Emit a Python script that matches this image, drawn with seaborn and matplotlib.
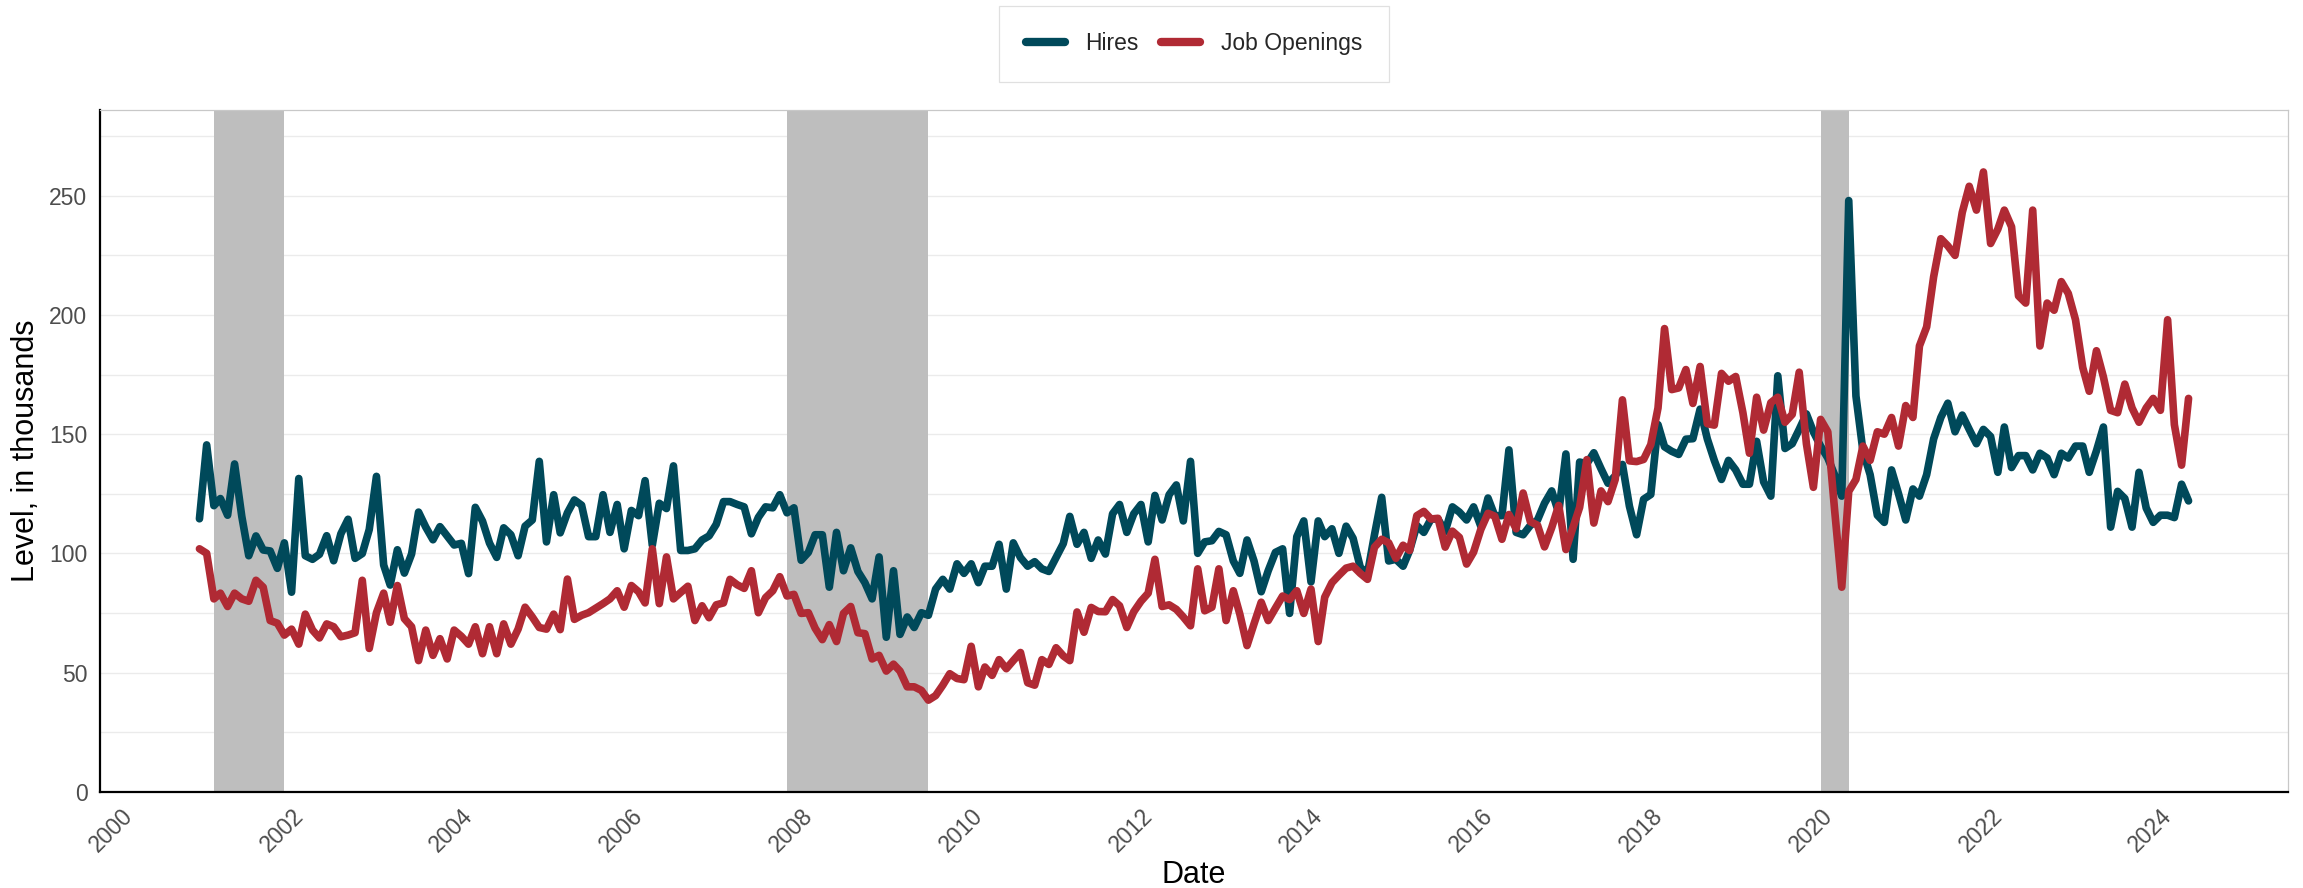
import pandas as pd
import matplotlib
matplotlib.use("Agg")
import matplotlib.pyplot as plt
import matplotlib.dates as mdates
from matplotlib.ticker import MultipleLocator
import seaborn as sns

# ------------------------------------------------------------------
# Data (thousands), monthly from Dec 2000 to May 2024
# ------------------------------------------------------------------
START_MONTH = "2000-12-01"

HIRES = [
    114.5,
    145.5, 120, 123, 116, 137.5, 115.5, 99, 107.3, 101.4, 101, 93.7, 104.4,        # 2001
    83.7, 131.4, 99, 97.5, 99.6, 107.4, 96.9, 108.2, 114.3, 97.9, 99.9, 110,       # 2002
    132.3, 95.1, 86.7, 101.5, 91.7, 99.7, 117.3, 111, 105.7, 111.2, 107.3, 103.5,  # 2003
    104.2, 91.5, 119.3, 113.5, 104.3, 98.3, 110.7, 107.8, 99, 111.4, 114, 138.6,   # 2004
    104.8, 124.6, 108.6, 117, 122.4, 120.2, 107, 107, 124.6, 108.8, 120.5, 101.9,  # 2005
    118, 115.8, 130.5, 103.4, 121, 118.8, 136.7, 101.2, 101.2, 101.9, 105.6, 107.3,  # 2006
    112.2, 121.7, 121.7, 120.5, 119.5, 108.2, 115.1, 119.5, 119.1, 124.6, 117, 119.1,  # 2007
    97.1, 100.4, 107.8, 107.8, 85.8, 108.8, 92.7, 102.3, 92.4, 87.7, 80.9, 98.5,   # 2008
    64.8, 92.7, 66, 73.3, 68.9, 75.1, 74, 85, 89.1, 85, 95.6, 91.6,               # 2009
    95.6, 87.7, 94.6, 94.6, 103.8, 85, 104.4, 98.2, 94.6, 96.5, 93.5, 92.4,        # 2010
    98.2, 104.1, 115.5, 103.8, 108.8, 97.9, 105.6, 99.7, 116.6, 120.5, 108.8, 116.6,  # 2011
    120.5, 104.8, 124.3, 114, 124.6, 128.7, 113.6, 138.6, 100, 104.8, 105.3, 109.2,  # 2012
    107.8, 96.8, 91.6, 105.6, 96.8, 83.9, 92.7, 100.4, 101.9, 74.8, 107, 113.6,    # 2013
    88, 113.6, 107, 110.3, 100, 111.4, 106.3, 94.1, 91.6, 107.8, 123.5, 96.8,      # 2014
    97.5, 94.6, 101.2, 111.7, 108.8, 114.4, 114.4, 109.2, 119.5, 117.3, 114, 119.5,  # 2015
    111.4, 123.2, 115.8, 115.8, 143.4, 108.8, 107.8, 111.7, 114, 121, 126.2, 117,  # 2016
    141.7, 97.5, 138.3, 137.6, 142.2, 135.5, 129.4, 132.5, 137.3, 119.8, 107.8, 122.7,  # 2017
    124.7, 154, 144.7, 142.8, 141.5, 147.9, 148.1, 160.5, 148, 139, 131, 139,      # 2018
    135, 129, 129, 147, 130, 124, 174.5, 144, 146, 152, 158.5, 151,                # 2019
    145, 140, 133, 124, 248, 166, 143, 133, 116, 113, 135, 125,                    # 2020
    114, 127, 124, 133, 148, 157, 163, 151, 158, 152, 146, 152,                    # 2021
    149, 134, 153, 136, 141, 141, 135, 142, 140, 133, 142, 140,                    # 2022
    145, 145, 134, 143, 153, 111, 126, 123, 111, 134, 119, 113,                    # 2023
    116, 116, 115, 129, 122,                                                       # 2024
]

OPENINGS = [
    101.9,
    100, 80.9, 83.3, 77.7, 83.3, 80.9, 79.9, 88.7, 85.8, 71.8, 70.7, 65.7,         # 2001
    68.2, 61.9, 74.5, 67.8, 64.5, 70.4, 69.2, 65, 65.7, 66.7, 88.7, 60.1,          # 2002
    75.1, 83.3, 71.1, 86.5, 72.6, 69.2, 55, 67.8, 57.2, 64.2, 55.7, 67.8,          # 2003
    65.2, 61.9, 69.2, 57.9, 69.2, 57.9, 70.4, 61.9, 68.2, 77.4, 73.3, 68.9,        # 2004
    68.2, 74.5, 68, 89.2, 72.3, 74, 75.1, 77, 78.9, 80.9, 84.3, 77.4,              # 2005
    86.5, 83.9, 79.2, 101.9, 78.9, 98.5, 80.9, 83.6, 86.2, 71.8, 78, 73,           # 2006
    78.4, 79.2, 89.1, 86.8, 85.3, 92.7, 75.1, 81.4, 84.3, 90.2, 82.1, 82.8,        # 2007
    74.8, 75.1, 68.6, 63.8, 70.1, 63, 74.8, 77.7, 66.7, 66.3, 55.7, 57.2,          # 2008
    50.6, 53.5, 50.6, 44, 44, 42.5, 38.4, 40.3, 44.7, 49.5, 47.5, 47,              # 2009
    61, 44, 52.3, 48.8, 55.4, 51.6, 55, 58.4, 45.7, 44.7, 55.4, 53.4,              # 2010
    60.4, 57, 55, 75.4, 66.9, 77.3, 75.6, 75.5, 80.6, 78, 68.9, 75.5,              # 2011
    79.9, 83.3, 97.5, 77.7, 78.4, 76.5, 73.3, 69.6, 93.5, 75.9, 77.4, 93.5,        # 2012
    71.8, 84.3, 74.5, 61.3, 70.4, 79.5, 71.8, 77, 82.1, 80.6, 84.3, 74.8,          # 2013
    85, 63, 81.6, 87.7, 90.8, 93.8, 94.6, 91.6, 89.1, 102.6, 105.9, 104.4,         # 2014
    97.9, 103.4, 101.2, 115.8, 117.6, 114.4, 114.7, 102.6, 109.3, 106.7, 95.5, 100.5,  # 2015
    110, 116.8, 115.6, 105.9, 116.3, 110.3, 125.3, 113.3, 111.8, 102.7, 110.8, 120.1,  # 2016
    101.6, 111, 119.3, 139.3, 112.7, 126.2, 121.7, 131, 164.4, 138.8, 138.5, 139.4,  # 2017
    145.6, 161, 194.3, 168.7, 169.4, 177.1, 162.9, 178.4, 154.4, 153.8, 175.5, 172.2,  # 2018
    174.2, 159, 142, 165.5, 151.7, 163.2, 165.5, 155, 158.3, 176, 146, 127.7,      # 2019
    156.2, 151, 118.5, 85.8, 126, 131, 145, 139, 151, 150, 157, 145,               # 2020
    162, 157, 187, 195, 216, 232, 229, 225, 243, 254, 244, 260,                    # 2021
    230, 236, 244, 237, 208, 205, 244, 187, 205, 202, 214, 209,                    # 2022
    198, 178, 168, 185, 174, 160, 159, 171, 161, 155, 161, 165,                    # 2023
    160, 198, 154, 137, 165,                                                       # 2024
]

# Shaded recession periods
RECESSION_START = ["2001-02-01", "2007-11-01", "2020-01-01"]
RECESSION_END = ["2001-12-01", "2009-07-01", "2020-05-01"]

COLORS = {"Hires": "#00495A", "Job Openings": "#B02A34"}
SHADE_COLOR = "#BEBEBE"

# ------------------------------------------------------------------
# Build long-form frame
# ------------------------------------------------------------------
dates = pd.date_range(START_MONTH, periods=len(HIRES), freq="MS")
wide = pd.DataFrame({"date": dates, "Hires": HIRES, "Job Openings": OPENINGS})
df = wide.melt(id_vars="date", var_name="series", value_name="level")

# ------------------------------------------------------------------
# Plot
# ------------------------------------------------------------------
sns.set_style("white")
plt.rcParams["font.family"] = ["Liberation Sans", "DejaVu Sans"]

W, H = 2303, 888
fig = plt.figure(figsize=(W / 100, H / 100), dpi=100)
ax = fig.add_axes([100 / W, 1 - 791.7 / H, 2188 / W, 681.7 / H])

for s, e in zip(RECESSION_START, RECESSION_END):
    ax.axvspan(pd.Timestamp(s), pd.Timestamp(e), color=SHADE_COLOR, lw=0, zorder=1)

sns.lineplot(
    data=df, x="date", y="level", hue="series", palette=COLORS,
    linewidth=5.5, ax=ax, zorder=3,
)

# Axis limits (ggplot-style 5% on x, 10% headroom on y)
pad = (dates[-1] - dates[0]) * 0.05
ax.set_xlim(dates[0] - pad, dates[-1] + pad)
ax.set_ylim(0, df["level"].max() * 1.1)

# Ticks
ax.xaxis.set_major_locator(mdates.YearLocator(2))
ax.xaxis.set_major_formatter(mdates.DateFormatter("%Y"))
ax.yaxis.set_major_locator(MultipleLocator(50))
ax.yaxis.set_minor_locator(MultipleLocator(25))
ax.tick_params(axis="both", which="major", direction="out", length=5, width=1.3,
               color="#333333", labelcolor="#4D4D4D", labelsize=16.5, pad=4)
ax.tick_params(axis="y", which="minor", length=0)
ax.tick_params(axis="x", which="major", labelrotation=45)
plt.setp(ax.get_xticklabels(), ha="right", rotation_mode="anchor")

# Grid
ax.set_axisbelow(True)
ax.grid(axis="y", which="both", color="#EBEBEB", linewidth=1.0)
ax.grid(axis="x", visible=False)

# Spines
for side in ["left", "bottom"]:
    ax.spines[side].set_color("black")
    ax.spines[side].set_linewidth(1.6)
for side in ["top", "right"]:
    ax.spines[side].set_color("#C8C8C8")
    ax.spines[side].set_linewidth(0.9)

ax.set_xlabel("Date", fontsize=22, color="black")
ax.set_ylabel("Level, in thousands", fontsize=22, color="black")
ax.xaxis.set_label_coords(0.5, -0.10)
ax.yaxis.set_label_coords(-0.027, 0.5)

# Legend on top
sns.move_legend(
    ax, "center", bbox_to_anchor=(0.5, 1.097), ncol=2, title=None,
    frameon=True, fancybox=False, fontsize=16.5, handlelength=1.7,
    handletextpad=0.9, columnspacing=1.0, borderpad=1.15,
)
leg = ax.get_legend()
leg.get_frame().set_edgecolor("#D9D9D9")
leg.get_frame().set_linewidth(0.9)
for h in leg.legend_handles:
    h.set_linewidth(6)

fig.savefig("out.png", dpi=100, facecolor="white")
plt.close(fig)
